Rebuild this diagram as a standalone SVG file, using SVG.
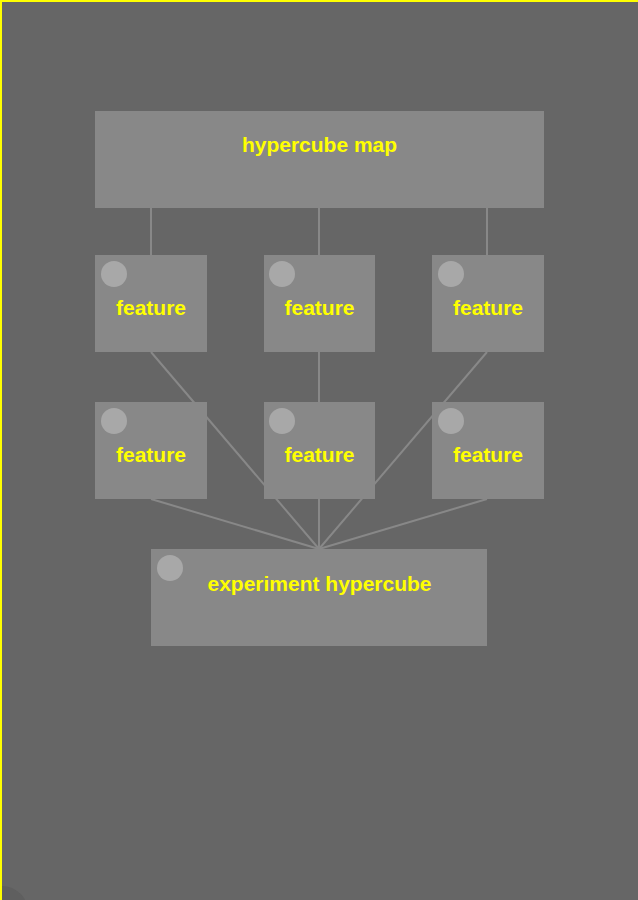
<svg xmlns="http://www.w3.org/2000/svg" width="638" height="900" viewBox="0 0 638 900">
<style>
.box{fill:#888888}
.dot{fill:#a8a8a8}
.lbl{font-family:"Liberation Sans",Arial,sans-serif;font-weight:bold;font-size:21px;fill:#ffff00;text-anchor:middle}
.edge{stroke:#888888;stroke-width:2;fill:none}
</style>
<rect x="0" y="0" width="638" height="900" fill="#666666"/>
<circle cx="2" cy="912" r="26" fill="#5f5f5f"/>
<path d="M1 900 V1 H638" fill="none" stroke="#ffff00" stroke-width="2"/>
<g id="connectors">
<path class="edge" d="M151 208V255M319 208V255M487 208V255"/>
<path class="edge" d="M151 352L319 549M319 352L319 549M487 352L319 549"/>
<path class="edge" d="M151 499L319 549M487 499L319 549"/>
</g>
<g id="hypercube-map">
<rect class="box" x="95" y="111" width="449" height="97"/>
<text class="lbl" x="319.5" y="152">hypercube map</text>
</g>
<g id="feature-1-1">
<rect class="box" x="95" y="255" width="112" height="97"/>
<circle class="dot" cx="114" cy="274" r="13"/>
<text class="lbl" x="151" y="315">feature</text>
</g>
<g id="feature-1-2">
<rect class="box" x="264" y="255" width="111" height="97"/>
<circle class="dot" cx="282" cy="274" r="13"/>
<text class="lbl" x="319.5" y="315">feature</text>
</g>
<g id="feature-1-3">
<rect class="box" x="432" y="255" width="112" height="97"/>
<circle class="dot" cx="451" cy="274" r="13"/>
<text class="lbl" x="488" y="315">feature</text>
</g>
<g id="feature-2-1">
<rect class="box" x="95" y="402" width="112" height="97"/>
<circle class="dot" cx="114" cy="421" r="13"/>
<text class="lbl" x="151" y="462">feature</text>
</g>
<g id="feature-2-2">
<rect class="box" x="264" y="402" width="111" height="97"/>
<circle class="dot" cx="282" cy="421" r="13"/>
<text class="lbl" x="319.5" y="462">feature</text>
</g>
<g id="feature-2-3">
<rect class="box" x="432" y="402" width="112" height="97"/>
<circle class="dot" cx="451" cy="421" r="13"/>
<text class="lbl" x="488" y="462">feature</text>
</g>
<g id="experiment-hypercube">
<rect class="box" x="151" y="549" width="336" height="97"/>
<circle class="dot" cx="170" cy="568" r="13"/>
<text class="lbl" x="319.5" y="591">experiment hypercube</text>
</g>
</svg>
